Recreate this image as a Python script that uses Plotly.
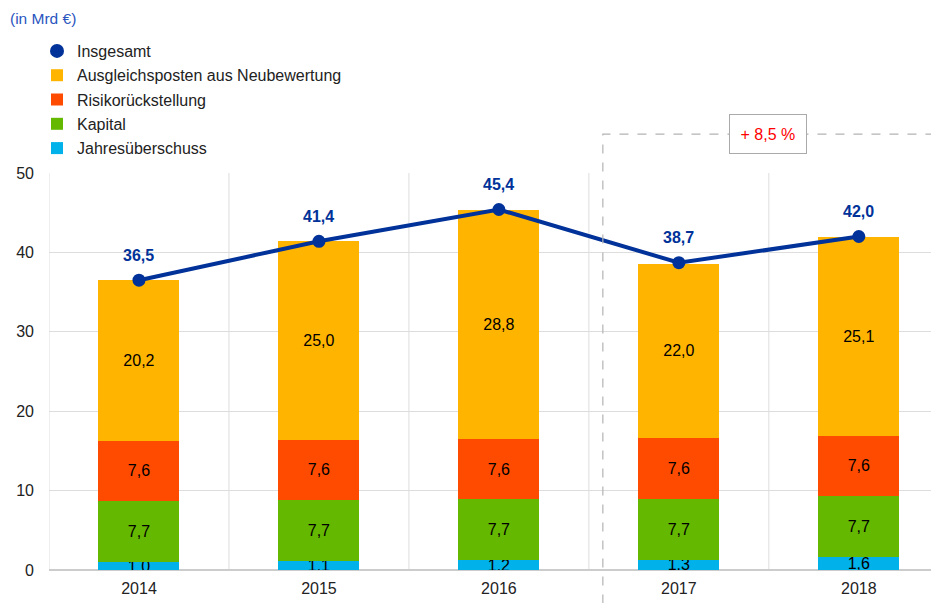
import plotly.graph_objects as go

years = ["2014", "2015", "2016", "2017", "2018"]
jahresueberschuss = [1.0, 1.1, 1.2, 1.3, 1.6]
kapital = [7.7, 7.7, 7.7, 7.7, 7.7]
risiko = [7.6, 7.6, 7.6, 7.6, 7.6]
ausgleich = [20.2, 25.0, 28.8, 22.0, 25.1]
insgesamt = [36.5, 41.4, 45.4, 38.7, 42.0]

DARK_BLUE = "#003299"
FONT = "Liberation Sans, Arial, sans-serif"
pos = list(range(len(years)))

# page body has an 8px margin, so the figure is laid out 8px up/left
W, H = 931, 595
L, T, B, R = 41, 165, 33, 1
PW, PH = W - L - R, H - T - B

fig = go.Figure()

bars = [
    ("Jahresüberschuss", jahresueberschuss, "#00b1ea", 5),
    ("Kapital", kapital, "#65b800", 4),
    ("Risikorückstellung", risiko, "#ff4b00", 3),
    ("Ausgleichsposten aus Neubewertung", ausgleich, "#ffb400", 2),
]
for name, vals, color, rank in bars:
    fig.add_trace(go.Bar(
        x=pos, y=vals, name=name, marker_color=color, marker_line_width=0,
        width=0.45, texttemplate="%{y:.1f}", textposition="inside",
        insidetextanchor="middle", textangle=0, constraintext="none",
        textfont=dict(size=16, color="black", family=FONT),
        legendrank=rank, legendgroup=name,
    ))

fig.add_trace(go.Scatter(
    x=pos, y=insgesamt, mode="lines+markers", showlegend=False,
    line=dict(color=DARK_BLUE, width=4), marker=dict(size=13, color=DARK_BLUE),
))
# legend entry: marker only
fig.add_trace(go.Scatter(
    x=[None], y=[None], mode="markers", name="Insgesamt",
    marker=dict(size=14, color=DARK_BLUE), legendrank=1, legendgroup="Insgesamt",
))

for x, v in zip(pos, insgesamt):
    fig.add_annotation(x=x, y=v, yshift=25, text=f"<b>{v:.1f}</b>".replace(".", ","),
                       showarrow=False, font=dict(size=16, color=DARK_BLUE, family=FONT))

# vertical grid between categories
for b in [-0.5, 0.5, 1.5, 2.5, 3.5]:
    fig.add_shape(type="line", x0=b, x1=b, y0=0, y1=50, xref="x", yref="y",
                  line=dict(color="#dddddd", width=1), layer="below")

# dashed box around 2017-2018
fig.add_shape(type="rect", xref="paper", yref="paper", x0=0.623, x1=0.9955,
              y0=-0.2, y1=1.098, line=dict(color="#b3b3b3", width=1.2, dash="dash"))
fig.add_annotation(xref="paper", yref="paper", x=(760 - L) / PW, y=1.098,
                   xanchor="center", yanchor="middle", text="+ 8,5 %",
                   showarrow=False, bgcolor="white", bordercolor="#aaaaaa", borderwidth=1,
                   borderpad=10.5, font=dict(size=16, color="#ff0000", family=FONT))

fig.add_annotation(xref="paper", yref="paper", x=(0 - L) / PW, xanchor="left",
                   y=(H - B - 10) / PH, yanchor="middle", text="(in Mrd €)",
                   showarrow=False, font=dict(size=15.5, color="#2a55c0", family=FONT))

fig.update_layout(
    width=W, height=H,
    margin=dict(l=L, r=R, t=T, b=B, autoexpand=False),
    paper_bgcolor="white", plot_bgcolor="white",
    barmode="stack", separators=",.",
    font=dict(family=FONT, size=16, color="#222222"),
    showlegend=True,
    legend=dict(x=(29 - L) / PW, xanchor="left", yref="container", y=1 - 26 / H,
                yanchor="top", traceorder="grouped", tracegroupgap=0.5,
                font=dict(size=16, color="#222222", family=FONT), bgcolor="rgba(0,0,0,0)"),
    xaxis=dict(range=[-0.5, 4.44], tickmode="array", tickvals=pos, ticktext=years,
               showgrid=False, zeroline=False, showline=False, ticks="",
               ticklabelstandoff=7, tickfont=dict(size=16, color="#222222")),
    yaxis=dict(range=[0, 50], dtick=10, showgrid=True, gridcolor="#dddddd",
               zeroline=True, zerolinecolor="#cccccc", zerolinewidth=1.5,
               ticklabelstandoff=14, tickfont=dict(size=16, color="#222222")),
)

fig.write_html("out.html")
